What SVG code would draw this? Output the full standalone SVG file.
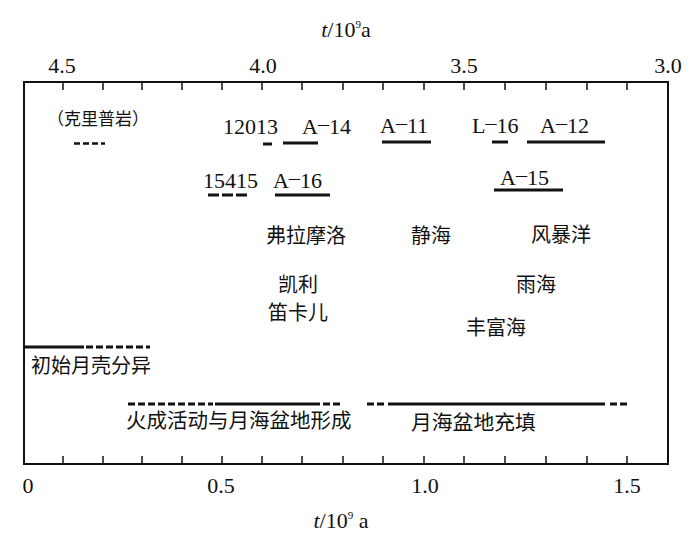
<svg xmlns="http://www.w3.org/2000/svg" width="700" height="543" viewBox="0 0 700 543">
<style>
.num{font-family:"Liberation Serif","Times New Roman",serif;font-size:22px;fill:#111}
.cjk{font-family:"Noto Sans CJK SC","Noto Sans CJK JP",sans-serif;font-size:20px;fill:#111}
.frame{stroke:#111;stroke-width:2;fill:none}
.tk{stroke:#111;stroke-width:1.5}
.bar{stroke:#111;stroke-width:3;fill:none}
.dash{stroke-dasharray:7 3}
</style>
<rect width="700" height="543" fill="#fff"/>
<g id="axes">
<rect class="frame" x="24" y="82" width="644" height="382"/>
<g id="top-ticks" class="tk">
<line x1="63" y1="82" x2="63" y2="90"/><line x1="103" y1="82" x2="103" y2="90"/><line x1="142" y1="82" x2="142" y2="90"/><line x1="182" y1="82" x2="182" y2="90"/><line x1="222" y1="82" x2="222" y2="90"/><line x1="262" y1="82" x2="262" y2="90"/><line x1="302" y1="82" x2="302" y2="90"/><line x1="343" y1="82" x2="343" y2="90"/><line x1="383" y1="82" x2="383" y2="90"/><line x1="424" y1="82" x2="424" y2="90"/><line x1="464" y1="82" x2="464" y2="90"/><line x1="505" y1="82" x2="505" y2="90"/><line x1="546" y1="82" x2="546" y2="90"/><line x1="587" y1="82" x2="587" y2="90"/><line x1="627" y1="82" x2="627" y2="90"/>
</g>
<g id="bottom-ticks" class="tk">
<line x1="63" y1="464" x2="63" y2="456"/><line x1="103" y1="464" x2="103" y2="456"/><line x1="142" y1="464" x2="142" y2="456"/><line x1="182" y1="464" x2="182" y2="456"/><line x1="222" y1="464" x2="222" y2="456"/><line x1="262" y1="464" x2="262" y2="456"/><line x1="302" y1="464" x2="302" y2="456"/><line x1="343" y1="464" x2="343" y2="456"/><line x1="383" y1="464" x2="383" y2="456"/><line x1="424" y1="464" x2="424" y2="456"/><line x1="464" y1="464" x2="464" y2="456"/><line x1="505" y1="464" x2="505" y2="456"/><line x1="546" y1="464" x2="546" y2="456"/><line x1="587" y1="464" x2="587" y2="456"/><line x1="627" y1="464" x2="627" y2="456"/>
</g>
<g id="top-labels" class="num" text-anchor="middle">
<text x="346" y="37"><tspan font-style="italic">t</tspan>/10<tspan font-size="11" dy="-9">9</tspan><tspan dy="9">a</tspan></text>
<text x="62" y="73">4.5</text>
<text x="263" y="73">4.0</text>
<text x="464" y="73">3.5</text>
<text x="668" y="73">3.0</text>
</g>
<g id="bottom-labels" class="num" text-anchor="middle">
<text x="28" y="493">0</text>
<text x="221" y="493">0.5</text>
<text x="425" y="493">1.0</text>
<text x="627" y="493">1.5</text>
<text x="341" y="528"><tspan font-style="italic">t</tspan>/10<tspan font-size="11" dy="-9">9</tspan><tspan dy="9"> a</tspan></text>
</g>
</g>
<g id="samples">
<g id="kreep">
<text class="cjk" x="47" y="125" style="font-size:17px">（克里普岩）</text>
<line class="bar" x1="74" y1="143.5" x2="105" y2="143.5" style="stroke-width:2.5;stroke-dasharray:6 3"/>
</g>
<g id="s12013"><text class="num" x="223" y="134">12013</text><line class="bar" x1="263" y1="144" x2="272" y2="144"/></g>
<g id="a14"><text class="num" x="302" y="134">A<tspan dy="-3">–</tspan><tspan dy="3">14</tspan></text><line class="bar" x1="283" y1="143" x2="318" y2="143"/></g>
<g id="a11"><text class="num" x="380" y="133">A<tspan dy="-3">–</tspan><tspan dy="3">11</tspan></text><line class="bar" x1="382" y1="142" x2="431" y2="142"/></g>
<g id="l16"><text class="num" x="472" y="133">L<tspan dy="-3">–</tspan><tspan dy="3">16</tspan></text><line class="bar" x1="492" y1="142" x2="508" y2="142"/></g>
<g id="a12"><text class="num" x="540" y="133">A<tspan dy="-3">–</tspan><tspan dy="3">12</tspan></text><line class="bar" x1="527" y1="142" x2="605" y2="142"/></g>
<g id="s15415"><text class="num" x="203" y="188">15415</text><line class="bar" x1="208" y1="195" x2="248" y2="195" style="stroke-dasharray:11 3"/></g>
<g id="a16"><text class="num" x="273" y="188">A<tspan dy="-3">–</tspan><tspan dy="3">16</tspan></text><line class="bar" x1="275" y1="195" x2="330" y2="195"/></g>
<g id="a15"><text class="num" x="500" y="185">A<tspan dy="-3">–</tspan><tspan dy="3">15</tspan></text><line class="bar" x1="494" y1="190" x2="563" y2="190"/></g>
</g>
<g id="regions" class="cjk">
<text id="fra-mauro" x="266" y="243">弗拉摩洛</text>
<text id="tranquillitatis" x="411" y="243">静海</text>
<text id="procellarum" x="531" y="242">风暴洋</text>
<text id="taurus-littrow" x="278" y="292">凯利</text>
<text id="descartes" x="268" y="320">笛卡儿</text>
<text id="imbrium" x="516" y="292">雨海</text>
<text id="fecunditatis" x="466" y="335">丰富海</text>
</g>
<g id="events">
<g id="crust">
<line class="bar" x1="24" y1="347" x2="84" y2="347"/>
<line class="bar dash" x1="86" y1="347" x2="150" y2="347"/>
<text class="cjk" x="31" y="373">初始月壳分异</text>
</g>
<g id="basins">
<line class="bar dash" x1="128" y1="404" x2="213" y2="404"/>
<line class="bar" x1="215" y1="404" x2="320" y2="404"/>
<line class="bar dash" x1="323" y1="404" x2="343" y2="404"/>
<text class="cjk" x="126" y="428" style="font-size:20.5px">火成活动与月海盆地形成</text>
</g>
<g id="mare-fill">
<line class="bar dash" x1="367" y1="404" x2="387" y2="404"/>
<line class="bar" x1="388" y1="404" x2="605" y2="404"/>
<line class="bar dash" x1="610" y1="404" x2="630" y2="404"/>
<text class="cjk" x="411" y="430" style="font-size:20.8px">月海盆地充填</text>
</g>
</g>
</svg>
